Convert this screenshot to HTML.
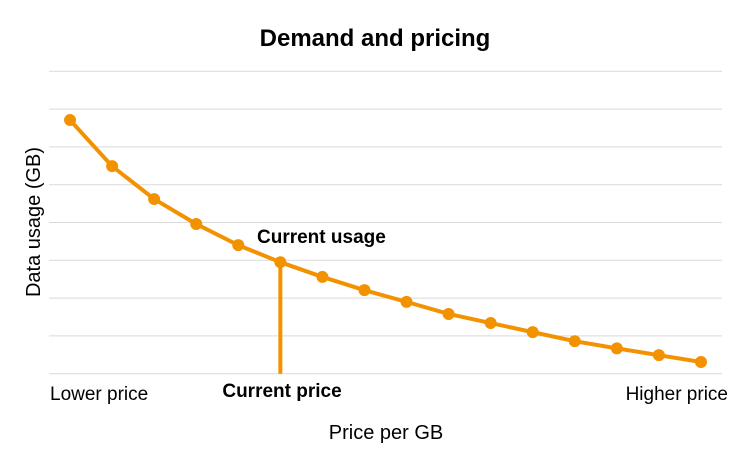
<!DOCTYPE html>
<html><head><meta charset="utf-8"><style>
body{margin:0;background:#fff;font-family:"Liberation Sans",Calibri,sans-serif}
</style></head><body>
<svg width="751" height="451" viewBox="0 0 751 451">
<text x="375" y="46" text-anchor="middle" font-size="24" font-weight="bold" fill="#000">Demand and pricing</text>
<g id="grid"></g>
<g id="series"></g>
<text x="50" y="400" font-size="19" fill="#000">Lower price</text>
<text x="282" y="397" text-anchor="middle" font-size="19" font-weight="bold" fill="#000">Current price</text>
<text x="728" y="400" text-anchor="end" font-size="19" fill="#000">Higher price</text>
<text x="386" y="439" text-anchor="middle" font-size="20" fill="#000">Price per GB</text>
<text transform="translate(40,222) rotate(-90)" text-anchor="middle" font-size="20" fill="#000">Data usage (GB)</text>
<text x="257" y="243" font-size="19" font-weight="bold" fill="#000">Current usage</text>
</svg>
<script>
const values=[6.71,5.49,4.62,3.96,3.40,2.95,2.56,2.21,1.90,1.58,1.34,1.10,0.86,0.67,0.49,0.31];
const gridTicks=[0,1,2,3,4,5,6,7,8];
const currentIndex=5;
const NS="http://www.w3.org/2000/svg";
const x0=49,x1=722,yBase=373.7,yTop=71.3,yMax=8;
const band=(x1-x0)/values.length;
const X=i=>x0+band*(i+0.5);
const Y=v=>yBase-(yBase-yTop)*v/yMax;
const grid=document.getElementById('grid'),ser=document.getElementById('series');
gridTicks.forEach(t=>{
 const l=document.createElementNS(NS,'line');
 l.setAttribute('x1',x0);l.setAttribute('x2',x1);l.setAttribute('y1',Y(t));l.setAttribute('y2',Y(t));
 l.setAttribute('stroke','#d9d9d9');l.setAttribute('stroke-width','1');
 
 
 grid.appendChild(l);
});
const vl=document.createElementNS(NS,'line');
vl.setAttribute('x1',X(currentIndex));vl.setAttribute('x2',X(currentIndex));vl.setAttribute('y1',Y(values[currentIndex]));vl.setAttribute('y2',yBase);
vl.setAttribute('stroke','#f39200');vl.setAttribute('stroke-width','4');


ser.appendChild(vl);
const pl=document.createElementNS(NS,'polyline');
pl.setAttribute('points',values.map((v,i)=>X(i)+','+Y(v)).join(' '));
pl.setAttribute('fill','none');pl.setAttribute('stroke','#f39200');pl.setAttribute('stroke-width','4');pl.setAttribute('stroke-linejoin','round');


ser.appendChild(pl);
values.forEach((v,i)=>{
 const c=document.createElementNS(NS,'circle');
 c.setAttribute('cx',X(i));c.setAttribute('cy',Y(v));c.setAttribute('r','6');c.setAttribute('fill','#f39200');
 
 
 ser.appendChild(c);
});
</script>
</body></html>
